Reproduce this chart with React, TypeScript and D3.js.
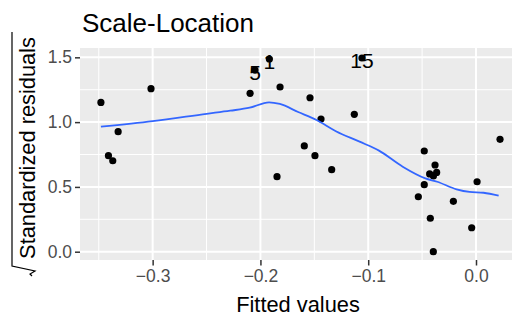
import React, { useEffect, useRef } from 'react';
import * as d3 from 'd3';

// fitted value, sqrt(|standardized residual|)
const fittedX = [
  -0.348, -0.3015, -0.332, -0.341, -0.337,
  -0.2096, -0.205, -0.1917, -0.1818, -0.154, -0.1438, -0.1129, -0.1593, -0.1494, -0.1846, -0.1339, -0.1058,
  0.0223, -0.048, -0.038, -0.043, -0.0395, -0.0365, -0.048, -0.0535, -0.021, -0.0424, -0.004, -0.0396, 0.001,
];
const residY = [
  1.152, 1.258, 0.926, 0.741, 0.702,
  1.222, 1.402, 1.487, 1.271, 1.188, 1.024, 1.06, 0.816, 0.741, 0.579, 0.633, 1.495,
  0.867, 0.777, 0.669, 0.6, 0.585, 0.612, 0.517, 0.424, 0.389, 0.258, 0.185, 0.0, 0.54,
];

// labelled observations (index into the arrays above)
const labelIdx = [6, 7, 16];
const labelText = ['5', '1', '15'];

// loess smooth
const smoothX = [-0.348, -0.3, -0.25, -0.228, -0.21, -0.192, -0.182, -0.165, -0.148, -0.13, -0.108, -0.09, -0.068, -0.047, -0.036, -0.018, -0.006, 0.007, 0.021];
const smoothY = [0.965, 1.008, 1.064, 1.088, 1.111, 1.153, 1.14, 1.078, 1.016, 0.93, 0.849, 0.78, 0.656, 0.566, 0.54, 0.481, 0.461, 0.455, 0.432];

const xTicks = [-0.3, -0.2, -0.1, 0.0];
const xMinor = [-0.35, -0.25, -0.15, -0.05];
const yTicks = [0.0, 0.5, 1.0, 1.5];
const yMinor = [0.25, 0.75, 1.25];

const FONT = '"Liberation Sans", Arial, sans-serif';

const App = () => {
  const ref = useRef<SVGSVGElement | null>(null);

  useEffect(() => {
    if (!ref.current) return;
    const svg = d3.select(ref.current);
    svg.selectAll('*').remove();

    const left = 80, right = 512, top = 48, bottom = 260;
    const x = d3.scaleLinear().domain([-0.3674, 0.0334]).range([left, right]);
    const y = d3.scaleLinear().domain([-0.064, 1.572]).range([bottom, top]);

    svg.append('rect').attr('width', 512).attr('height', 320).attr('fill', '#ffffff');

    // panel
    svg.append('rect')
      .attr('x', left).attr('y', top)
      .attr('width', right - left).attr('height', bottom - top)
      .attr('fill', '#EBEBEB');

    const grid = svg.append('g').attr('stroke', '#ffffff');
    grid.selectAll('.xmin').data(xMinor).join('line')
      .attr('x1', d => x(d)).attr('x2', d => x(d)).attr('y1', top).attr('y2', bottom).attr('stroke-width', 1);
    grid.selectAll('.ymin').data(yMinor).join('line')
      .attr('x1', left).attr('x2', right).attr('y1', d => y(d)).attr('y2', d => y(d)).attr('stroke-width', 1);
    grid.selectAll('.xmaj').data(xTicks).join('line')
      .attr('x1', d => x(d)).attr('x2', d => x(d)).attr('y1', top).attr('y2', bottom).attr('stroke-width', 2);
    grid.selectAll('.ymaj').data(yTicks).join('line')
      .attr('x1', left).attr('x2', right).attr('y1', d => y(d)).attr('y2', d => y(d)).attr('stroke-width', 2);

    // axes
    const xAxis = svg.append('g').attr('transform', `translate(0,${bottom})`)
      .call(d3.axisBottom(x).tickValues(xTicks).tickSize(5.5).tickPadding(4).tickFormat(d3.format('.1f')));
    xAxis.select('.domain').remove();
    xAxis.selectAll('line').attr('stroke', '#333333').attr('stroke-width', 1.5);
    xAxis.selectAll('text').attr('fill', '#4D4D4D').style('font-size', '17.5px').style('font-family', FONT);

    const yAxis = svg.append('g').attr('transform', `translate(${left},0)`)
      .call(d3.axisLeft(y).tickValues(yTicks).tickSize(5).tickPadding(3).tickFormat(d3.format('.1f')));
    yAxis.select('.domain').remove();
    yAxis.selectAll('line').attr('stroke', '#333333').attr('stroke-width', 1.5);
    yAxis.selectAll('text').attr('fill', '#4D4D4D').style('font-size', '17.5px').style('font-family', FONT);

    // points
    svg.append('g').selectAll('circle').data(fittedX).join('circle')
      .attr('cx', d => x(d)).attr('cy', (d, i) => y(residY[i]))
      .attr('r', 3.6).attr('fill', '#000000');

    // smooth
    const line = d3.line<number>().x(d => x(d)).y((d, i) => y(smoothY[i])).curve(d3.curveMonotoneX);
    svg.append('path').datum(smoothX)
      .attr('d', line).attr('fill', 'none')
      .attr('stroke', '#3366FF').attr('stroke-width', 1.8);

    // point labels
    svg.append('g').selectAll('text').data(labelIdx).join('text')
      .attr('x', d => x(fittedX[d])).attr('y', d => y(residY[d]) + 10)
      .attr('text-anchor', 'middle')
      .style('font-size', '21px').style('font-family', FONT).attr('fill', '#000000')
      .text((d, i) => labelText[i]);

    // titles
    svg.append('text').attr('x', 82).attr('y', 32)
      .style('font-size', '26px').style('font-family', FONT).attr('fill', '#000000')
      .text('Scale-Location');

    svg.append('text').attr('x', (left + 476) / 2 + 20).attr('y', 312)
      .attr('text-anchor', 'middle')
      .style('font-size', '21.8px').style('font-family', FONT).attr('fill', '#000000')
      .text('Fitted values');

    const yl = svg.append('g').attr('transform', 'translate(28,148) rotate(-90)');
    yl.append('text').attr('x', 0).attr('y', 7).attr('text-anchor', 'middle')
      .style('font-size', '21.8px').style('font-family', FONT).attr('fill', '#000000')
      .text('Standardized residuals');
    yl.append('path')
      .attr('d', 'M116,-16 L-118,-16 L-123,7 L-126,2 L-128,4')
      .attr('fill', 'none').attr('stroke', '#000000').attr('stroke-width', 1.2);
  }, []);

  return (
    <div style={{ position: 'absolute', left: 0, top: 0 }}>
      <svg ref={ref} width={512} height={320} />
    </div>
  );
};

export default App;
